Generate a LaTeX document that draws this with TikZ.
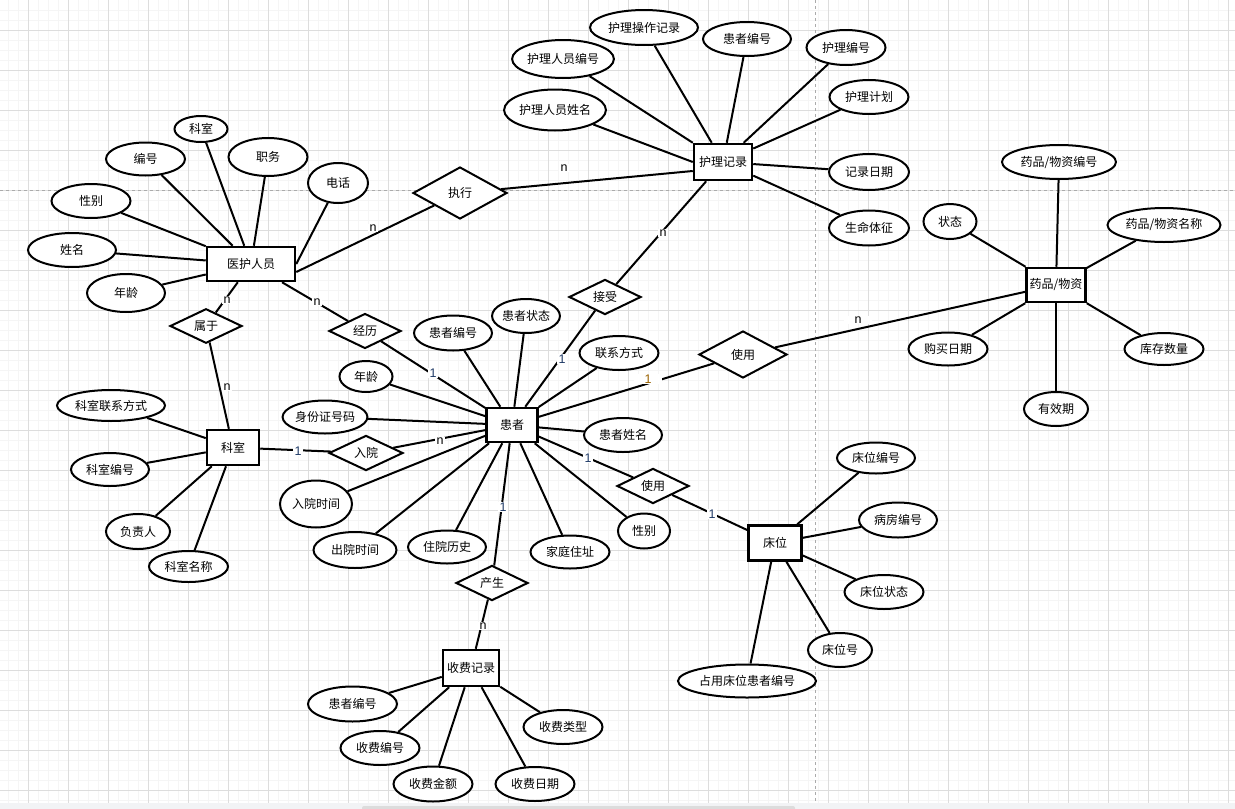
\documentclass[tikz,border=0pt]{standalone}
\usepackage{fontspec}
\newfontfamily\cjk{Noto Sans CJK SC}
\newfontfamily\lblfont{Liberation Sans}
\usetikzlibrary{shapes.geometric, calc}
\definecolor{gridmajor}{HTML}{DDDDDD}
\definecolor{gridminor}{HTML}{F5F5F5}
\definecolor{pagebreak}{HTML}{ABABAB}
\definecolor{onelabel}{HTML}{1F3A66}
\definecolor{onelabelb}{HTML}{9A6200}
\definecolor{barbg}{HTML}{F2F3F5}
\definecolor{barthumb}{HTML}{DCDCDC}
\newcommand{\erfont}{\cjk\fontsize{12pt}{14pt}\selectfont}
\tikzset{
  entity/.style={draw, rectangle, line width=2.5pt, fill=white, inner sep=0pt, font=\erfont},
  attr/.style={draw, ellipse, line width=2pt, fill=white, inner sep=0pt, font=\erfont},
  rel/.style={draw, diamond, line width=2pt, fill=white, inner sep=0pt, font=\erfont},
  conn/.style={line width=2pt},
  card/.style={fill=white, inner xsep=2pt, inner ysep=1pt, font=\lblfont\fontsize{12.5pt}{13pt}\selectfont},
}

\begin{document}
\begin{tikzpicture}[x=1pt, y=-1pt]
\useasboundingbox (0,0) rectangle (1235,809);
% canvas
\fill[white] (0,0) rectangle (1235,809);
\foreach \gx in {8,18,...,1228} \draw[gridminor, line width=0.6pt] (\gx,0) -- (\gx,809);
\foreach \gy in {10,20,...,800} \draw[gridminor, line width=0.6pt] (0,\gy) -- (1235,\gy);
\foreach \gx in {28,68,...,1228} \draw[gridmajor, line width=0.8pt] (\gx,0) -- (\gx,809);
\foreach \gy in {30,70,...,790} \draw[gridmajor, line width=0.8pt] (0,\gy) -- (1235,\gy);
\draw[pagebreak, dashed, line width=0.8pt] (0,190) -- (1235,190);
\draw[pagebreak, dashed, line width=0.8pt] (815,0) -- (815,809);
\fill[barbg] (0,803) rectangle (1235,809);
\fill[barthumb, rounded corners=2pt] (362,806) rectangle (795,812);

% entities
\node[entity, minimum width=88, minimum height=34] (ysry) at (251,264) {医护人员};
\node[entity, minimum width=58, minimum height=36] (hljl) at (723,162) {护理记录};
\node[entity, minimum width=59, minimum height=34] (yp) at (1056,285) {药品/物资};
\node[entity, minimum width=51, minimum height=34] (hz) at (512,425) {患者};
\node[entity, minimum width=52, minimum height=35] (ks) at (233,447.5) {科室};
\node[entity, minimum width=53, minimum height=35] (cw) at (775,543) {床位};
\node[entity, minimum width=56, minimum height=36] (sf) at (471,668) {收费记录};

% relationships
\node[rel, minimum width=94, minimum height=52] (zx) at (460,193) {执行};
\node[rel, minimum width=88, minimum height=47] (syyp) at (743,354.5) {使用};
\node[rel, minimum width=72, minimum height=33] (js) at (605,297) {接受};
\node[rel, minimum width=72, minimum height=27] (jl) at (365,331) {经历};
\node[rel, minimum width=72, minimum height=33] (sy) at (206,326) {属于};
\node[rel, minimum width=74, minimum height=35] (ry) at (366,453) {入院};
\node[rel, minimum width=72, minimum height=35] (sycw) at (653,486) {使用};
\node[rel, minimum width=72, minimum height=35] (cs) at (492,583) {产生};

% 医护人员 attributes
\node[attr, minimum width=53, minimum height=26] (ysks) at (201,129) {科室};
\node[attr, minimum width=79, minimum height=33] (ysbh) at (145.5,159) {编号};
\node[attr, minimum width=79, minimum height=38] (yszw) at (268,157) {职务};
\node[attr, minimum width=60, minimum height=40] (ysdh) at (338,183) {电话};
\node[attr, minimum width=79, minimum height=34] (ysxb) at (91,201) {性别};
\node[attr, minimum width=88, minimum height=34] (ysxm) at (72,250) {姓名};
\node[attr, minimum width=78, minimum height=38] (ysnl) at (126,293) {年龄};

% 护理记录 attributes
\node[attr, minimum width=108, minimum height=35] (hlczjl) at (644,27.5) {护理操作记录};
\node[attr, minimum width=88, minimum height=34] (hlhzbh) at (747,39) {患者编号};
\node[attr, minimum width=79, minimum height=35] (hlhlbh) at (846,47.5) {护理编号};
\node[attr, minimum width=90, minimum height=38] (hlrybh) at (563,59) {护理人员编号};
\node[attr, minimum width=79, minimum height=34] (hljh) at (869,97) {护理计划};
\node[attr, minimum width=85, minimum height=41] (hlryxm) at (555,110) {护理人员姓名};
\node[attr, minimum width=80, minimum height=36] (hlrq) at (869,172) {记录日期};
\node[attr, minimum width=80, minimum height=35] (hltz) at (869,228) {生命体征};

% 药品/物资 attributes
\node[attr, minimum width=114, minimum height=34] (ypbh) at (1059,162) {药品/物资编号};
\node[attr, minimum width=53, minimum height=35] (ypzt) at (950,221.5) {状态};
\node[attr, minimum width=113, minimum height=34] (ypmc) at (1164,225) {药品/物资名称};
\node[attr, minimum width=79, minimum height=33] (ypgm) at (948,349) {购买日期};
\node[attr, minimum width=79, minimum height=32] (ypkc) at (1164,349) {库存数量};
\node[attr, minimum width=64, minimum height=34] (ypyx) at (1056,409) {有效期};

% 患者 attributes
\node[attr, minimum width=78, minimum height=35] (hzbh) at (453,333) {患者编号};
\node[attr, minimum width=50, minimum height=34] (hzzt) at (526,316) {患者状态};
\node[attr, minimum width=79, minimum height=34] (hzlx) at (619,353) {联系方式};
\node[attr, minimum width=53, minimum height=31] (hznl) at (366,376.5) {年龄};
\node[attr, minimum width=75, minimum height=33] (hzsfz) at (325,417) {身份证号码};
\node[attr, minimum width=78, minimum height=34] (hzxm) at (623,435) {患者姓名};
\node[attr, minimum width=72, minimum height=47] (hzrysj) at (316,504) {入院时间};
\node[attr, minimum width=83, minimum height=36] (hzcysj) at (355,550) {出院时间};
\node[attr, minimum width=78, minimum height=33] (hzzyls) at (447,547) {住院历史};
\node[attr, minimum width=79, minimum height=33] (hzjtzz) at (570,552) {家庭住址};
\node[attr, minimum width=52, minimum height=35] (hzxb) at (644,531) {性别};

% 科室 attributes
\node[attr, minimum width=108, minimum height=31] (kslx) at (111,405.5) {科室联系方式};
\node[attr, minimum width=78, minimum height=33] (ksbh) at (110,469.5) {科室编号};
\node[attr, minimum width=64, minimum height=35] (ksfzr) at (138,531.5) {负责人};
\node[attr, minimum width=79, minimum height=31] (ksmc) at (188.5,566.5) {科室名称};

% 床位 attributes
\node[attr, minimum width=78, minimum height=31] (cwbh) at (876,458) {床位编号};
\node[attr, minimum width=78, minimum height=35] (cwbf) at (898,520) {病房编号};
\node[attr, minimum width=79, minimum height=34] (cwzt) at (884,592) {床位状态};
\node[attr, minimum width=64, minimum height=34] (cwh) at (840,650) {床位号};
\node[attr, minimum width=138, minimum height=33] (cwhz) at (747,681) {占用床位患者编号};

% 收费记录 attributes
\node[attr, minimum width=89, minimum height=35] (sfhz) at (352.5,704) {患者编号};
\node[attr, minimum width=79, minimum height=34] (sfbh) at (380,748) {收费编号};
\node[attr, minimum width=79, minimum height=34] (sflx) at (563,727) {收费类型};
\node[attr, minimum width=79, minimum height=35] (sfje) at (433,784) {收费金额};
\node[attr, minimum width=79, minimum height=34] (sfrq) at (535,784) {收费日期};

% attribute links
\draw[conn] (ysks) -- (ysry);
\draw[conn] (ysbh) -- (ysry);
\draw[conn] (yszw) -- (ysry);
\draw[conn] (ysdh) -- (ysry.east);
\draw[conn] (ysxb) -- (ysry);
\draw[conn] (ysxm) -- (ysry);
\draw[conn] (ysnl) -- (ysry);

\draw[conn] (hlczjl) -- (hljl);
\draw[conn] (hlhzbh) -- (hljl);
\draw[conn] (hlhlbh) -- (hljl);
\draw[conn] (hlrybh) -- (hljl.north west);
\draw[conn] (hljh) -- (hljl);
\draw[conn] (hlryxm) -- (hljl.west);
\draw[conn] (hlrq) -- (hljl);
\draw[conn] (hltz) -- (hljl);

\draw[conn] (ypbh) -- (yp);
\draw[conn] (ypzt) -- (yp);
\draw[conn] (ypmc) -- (yp);
\draw[conn] (ypgm) -- (yp);
\draw[conn] (ypkc) -- (yp);
\draw[conn] (ypyx) -- (yp);

\draw[conn] (hzbh) -- (hz);
\draw[conn] (hzzt) -- (hz);
\draw[conn] (hzlx) -- (hz);
\draw[conn] (hznl) -- (hz);
\draw[conn] (hzsfz) -- (hz);
\draw[conn] (hzxm) -- (hz);
\draw[conn] (hzrysj) -- (hz);
\draw[conn] (hzcysj) -- (hz);
\draw[conn] (hzzyls) -- (hz);
\draw[conn] (hzjtzz) -- (hz);
\draw[conn] (hzxb) -- (hz);

\draw[conn] (kslx) -- (ks);
\draw[conn] (ksbh) -- (ks);
\draw[conn] (ksfzr) -- (ks);
\draw[conn] (ksmc) -- (ks);

\draw[conn] (cwbh) -- (cw);
\draw[conn] (cwbf) -- (cw);
\draw[conn] (cwzt) -- (cw);
\draw[conn] (cwh) -- (cw);
\draw[conn] (cwhz) -- (cw);

\draw[conn] (sfhz) -- (sf);
\draw[conn] (sfbh) -- (sf);
\draw[conn] (sflx) -- (sf);
\draw[conn] (sfje) -- (sf);
\draw[conn] (sfrq) -- (sf);

% relationship links
\draw[conn] ($(ysry.east)+(0,8)$) -- (zx);
\draw[conn] (zx) -- ($(hljl.west)+(0,9)$);
\draw[conn] (hljl) -- (js);
\draw[conn] (js) -- (hz);
\draw[conn] (hz) -- (syyp);
\draw[conn] (syyp) -- (yp);
\draw[conn] (ysry) -- (sy);
\draw[conn] (sy) -- (ks);
\draw[conn] (ysry) -- (jl);
\draw[conn] (jl) -- (hz);
\draw[conn] (ks) -- (ry);
\draw[conn] (ry) -- (hz);
\draw[conn] (hz) -- (sycw);
\draw[conn] (sycw) -- (cw);
\draw[conn] (hz) -- (cs);
\draw[conn] (cs) -- (sf);

% cardinalities
\node[card] (kzx) at (373,228) {n};
\node[card] (kzxhl) at (564,168) {n};
\node[card] (kjshl) at (663,233) {n};
\node[card, text=onelabel] (kjshz) at (562,359) {1};
\node[card, text=onelabelb, inner xsep=11pt] (ksyhz) at (648,379) {1};
\node[card, inner xsep=11pt] (ksyyp) at (858,320) {n};
\node[card] (ksyys) at (227,300) {n};
\node[card] (ksyks) at (227,387) {n};
\node[card] (kjlys) at (317,302) {n};
\node[card, text=onelabel] (kjlhz) at (433,373) {1};
\node[card, text=onelabel] (kryks) at (298,451) {1};
\node[card] (kryhz) at (440,441) {n};
\node[card, text=onelabel] (kcwhz) at (588,458) {1};
\node[card, text=onelabel] (kcwcw) at (712,514) {1};
\node[card, text=onelabel] (kcshz) at (503,507) {1};
\node[card] (kcssf) at (483,626) {n};
\end{tikzpicture}
\end{document}
